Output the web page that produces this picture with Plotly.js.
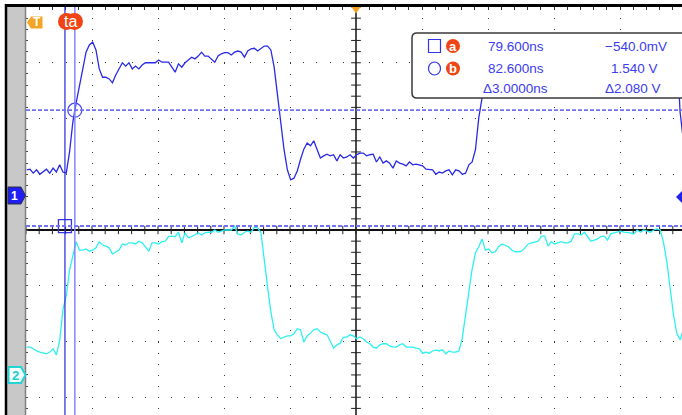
<!DOCTYPE html>
<html><head><meta charset="utf-8">
<script src="https://cdn.plot.ly/plotly-3.0.1.min.js"></script>
<style>html,body{margin:0;padding:0;background:#fff;}#c{width:682px;height:415px;}</style>
</head><body><div id="c"></div>
<script>
// ---- data (time in ns, volts) ----
const time = [68,69,70,71,72,73,74,75,76,77,78,79,80,81,82,83,84,85,86,87,88,89,90,91,92,93,94,95,96,97,98,99,100,101,102,103,104,105,106,107,108,109,110,111,112,113,114,115,116,117,118,119,120,121,122,123,124,125,126,127,128,129,130,131,132,133,134,135,136,137,138,139,140,141,142,143,144,145,146,147,148,149,150,151,152,153,154,155,156,157,158,159,160,161,162,163,164,165,166,167,168,169,170,171,172,173,174,175,176,177,178,179,180,181,182,183,184,185,186,187,188,189,190,191,192,193,194,195,196,197,198,199,200,201,202,203,204,205,206,207,208,209,210,211,212,213,214,215,216,217,218,219,220,221,222,223,224,225,226,227,228,229,230,231,232,233,234,235,236,237,238,239,240,241,242,243,244,245,246,247,248,249,250,251,252,253,254,255,256,257,258,259,260,261,262,263,264,265,266,267];
const ch1Volts = [0.47,0.48,0.41,0.47,0.39,0.43,0.48,0.41,0.50,0.43,
0.56,0.43,0.41,0.79,1.33,1.67,1.97,2.30,2.58,2.71,
2.76,2.62,2.28,2.13,2.13,2.10,2.03,2.17,2.28,2.39,
2.33,2.39,2.28,2.33,2.28,2.35,2.39,2.39,2.40,2.39,
2.44,2.40,2.40,2.40,2.31,2.22,2.37,2.31,2.39,2.44,
2.49,2.46,2.51,2.58,2.51,2.51,2.46,2.40,2.51,2.55,
2.57,2.57,2.53,2.58,2.60,2.58,2.49,2.60,2.64,2.65,
2.60,2.64,2.69,2.69,2.62,2.31,1.81,1.33,0.83,0.47,
0.29,0.32,0.45,0.66,0.84,0.95,0.90,0.99,0.83,0.68,
0.72,0.75,0.72,0.74,0.63,0.74,0.68,0.70,0.74,0.68,
0.74,0.77,0.77,0.72,0.74,0.75,0.61,0.70,0.59,0.63,
0.59,0.50,0.63,0.59,0.57,0.54,0.61,0.56,0.57,0.56,
0.54,0.48,0.48,0.47,0.39,0.43,0.41,0.45,0.47,0.38,
0.47,0.45,0.39,0.41,0.56,0.61,0.83,1.40,1.76,2.08,
2.35,2.48,2.53,2.55,2.60,2.52,2.58,2.62,2.55,2.60,
2.64,2.57,2.61,2.66,2.59,2.62,2.58,2.65,2.68,2.61,
2.64,2.60,2.67,2.70,2.63,2.66,2.62,2.69,2.65,2.71,
2.64,2.68,2.72,2.66,2.70,2.65,2.73,2.69,2.74,2.67,
2.71,2.75,2.70,2.73,2.68,2.76,2.71,2.74,2.78,2.72,
2.75,2.70,2.77,2.74,2.79,2.73,2.76,2.72,1.51,1.00];
const ch2Volts = [0.50,0.50,0.47,0.43,0.41,0.39,0.38,0.41,0.47,0.36,
0.61,1.17,1.42,1.88,2.13,2.39,2.24,2.24,2.26,2.22,
2.24,2.28,2.39,2.33,2.31,2.28,2.17,2.21,2.24,2.35,
2.33,2.37,2.37,2.35,2.40,2.37,2.30,2.22,2.37,2.37,
2.35,2.39,2.40,2.48,2.49,2.48,2.56,2.37,2.55,2.46,
2.48,2.51,2.55,2.51,2.55,2.56,2.56,2.60,2.56,2.58,
2.60,2.60,2.60,2.67,2.53,2.51,2.56,2.58,2.56,2.65,
2.64,2.55,2.03,1.58,1.13,0.81,0.72,0.65,0.68,0.70,
0.70,0.74,0.83,0.81,0.59,0.70,0.75,0.81,0.83,0.77,
0.74,0.72,0.61,0.48,0.54,0.57,0.68,0.68,0.72,0.70,
0.65,0.68,0.65,0.59,0.56,0.50,0.48,0.54,0.56,0.56,
0.52,0.50,0.50,0.54,0.56,0.50,0.50,0.50,0.48,0.47,
0.39,0.41,0.39,0.43,0.45,0.43,0.45,0.38,0.43,0.41,
0.41,0.43,0.66,1.09,1.56,1.90,2.19,2.30,2.44,2.24,
2.26,2.19,2.21,2.30,2.35,2.33,2.30,2.24,2.21,2.21,
2.22,2.28,2.35,2.37,2.39,2.40,2.49,2.49,2.31,2.39,
2.35,2.37,2.39,2.37,2.37,2.40,2.53,2.53,2.51,2.56,
2.49,2.40,2.42,2.44,2.48,2.49,2.42,2.53,2.55,2.56,
2.58,2.56,2.56,2.55,2.53,2.60,2.56,2.60,2.58,2.56,
2.60,2.62,2.60,2.37,2.03,1.52,1.08,0.75,0.63,0.81];
const cursorTimes = [79.6, 82.6];      // a, b
const cursorVolts = [-0.54, 1.54];     // a, b (channel 1)
const readoutTimeLabels = ['79.600ns', '82.600ns', '\u03943.0000ns'];
const readoutVoltLabels = ['\u2212540.0mV', '1.540 V', '\u03942.080 V'];

// ---- scope setup ----
const NS_PER_DIV = 20, V_PER_DIV = 1;
const T_CENTER = 167.8;                 // time at screen centre
const CH1_POS = 0.61, CH2_POS = -2.60;  // ground marker positions (div)
const PL = 26, PT = 7, PW = 656, PH = 408, W = 682, H = 415;
const PX_PER_DIV_X = 66, PX_PER_DIV_Y = 55.75;
const xmin = T_CENTER - 5 * NS_PER_DIV;
const xmax = xmin + PW / PX_PER_DIV_X * NS_PER_DIV;
const ytop = 4, ybot = 4 - PH / PX_PER_DIV_Y;

const px = x => (x - PL) / PW;
const py = y => (PT + PH - y) / PH;
const path = pts => 'M' + pts.map(p => px(p[0]).toFixed(5) + ',' + py(p[1]).toFixed(5)).join('L') + 'Z';

// center-axis tick decorations
const tx = [], ty = [], vx = [], vy = [];
for (let k = 0; k <= 50; k++) { tx.push(xmin + k * NS_PER_DIV / 5); ty.push(0); }
for (let k = -17; k <= 20; k++) { vx.push(T_CENTER); vy.push(k / 5); }

const traces = [
  {x: tx, y: ty, mode: 'markers', marker: {symbol: 'line-ns-open', size: 6, color: '#222', line: {width: 1, color: '#222'}}, hoverinfo: 'skip', xaxis: 'x', yaxis: 'y'},
  {x: vx, y: vy, mode: 'markers', marker: {symbol: 'line-ew-open', size: 7, color: '#222', line: {width: 1, color: '#222'}}, hoverinfo: 'skip', xaxis: 'x', yaxis: 'y'},
  {x: time, y: ch2Volts, mode: 'lines', line: {color: '#2ef0f0', width: 1.3}, yaxis: 'y3'},
  {x: time, y: ch1Volts, mode: 'lines', line: {color: '#2a2ae6', width: 1.3}, yaxis: 'y2'},
  {x: [cursorTimes[0]], y: [cursorVolts[0]], mode: 'markers', marker: {symbol: 'square-open', size: 13, color: '#3434e0', line: {width: 1.3, color: '#3434e0'}}, yaxis: 'y2'},
  {x: [cursorTimes[1]], y: [cursorVolts[1]], mode: 'markers', marker: {symbol: 'circle-open', size: 14, color: '#4a4af0', line: {width: 1.3, color: '#4a4af0'}}, yaxis: 'y2'}
];

const orange = '#f04414';
const shapes = [
  // left bezel
  {type: 'rect', xref: 'paper', yref: 'paper', x0: px(7), x1: px(25), y0: py(H), y1: py(5), fillcolor: '#c8c8c8', line: {width: 0}, layer: 'above'},
  {type: 'line', xref: 'paper', yref: 'paper', x0: px(25.5), x1: px(25.5), y0: py(H), y1: py(6), line: {color: '#808080', width: 1.5}, layer: 'above'},
  {type: 'line', xref: 'paper', yref: 'paper', x0: px(6), x1: px(6), y0: py(H), y1: py(4), line: {color: '#000', width: 2.5}, layer: 'above'},
  {type: 'line', xref: 'paper', yref: 'paper', x0: px(5), x1: px(W), y0: py(5.5), y1: py(5.5), line: {color: '#000', width: 3}, layer: 'above'},
  // centre vertical axis
  {type: 'line', xref: 'x', yref: 'paper', x0: T_CENTER, x1: T_CENTER, y0: 0, y1: 1, line: {color: '#111', width: 1.5}, layer: 'below'},
  // cursors
  {type: 'line', xref: 'x', yref: 'paper', x0: cursorTimes[0], x1: cursorTimes[0], y0: 0, y1: 1, line: {color: '#2626e0', width: 1.2}, layer: 'above'},
  {type: 'line', xref: 'x', yref: 'paper', x0: cursorTimes[1], x1: cursorTimes[1], y0: 0, y1: 1, line: {color: '#8484ff', width: 1.5}, layer: 'above'},
  {type: 'line', xref: 'paper', yref: 'y2', x0: 0, x1: 1, y0: cursorVolts[0], y1: cursorVolts[0], line: {color: '#7272f2', width: 2, dash: '4px,2px'}, layer: 'above'},
  {type: 'line', xref: 'paper', yref: 'y2', x0: 0, x1: 1, y0: cursorVolts[1], y1: cursorVolts[1], line: {color: '#7272f2', width: 1.6, dash: '4px,2px'}, layer: 'above'},
  // ta badge
  {type: 'circle', xref: 'paper', yref: 'paper', x0: px(58), x1: px(75), y0: py(30), y1: py(13), fillcolor: orange, line: {width: 0}, layer: 'above'},
  {type: 'circle', xref: 'paper', yref: 'paper', x0: px(66), x1: px(83), y0: py(30), y1: py(13), fillcolor: orange, line: {width: 0}, layer: 'above'},
  // T marker and trigger position
  {type: 'path', xref: 'paper', yref: 'paper', path: path([[27,22.5],[31,16.5],[42.5,16.5],[42.5,28.5],[31,28.5]]), fillcolor: '#f5a524', line: {width: 0}, layer: 'above'},
  {type: 'path', xref: 'paper', yref: 'paper', path: path([[351.5,7],[360.5,7],[356,13.5]]), fillcolor: '#f5a020', line: {width: 0}, layer: 'above'},
  // channel markers
  {type: 'path', xref: 'paper', yref: 'paper', path: path([[8,187],[21,187],[25.5,195.5],[21,204],[8,204]]), fillcolor: '#1e1ef5', line: {color: '#303040', width: 1}, layer: 'above'},
  {type: 'path', xref: 'paper', yref: 'paper', path: path([[8.5,367],[21,367],[25.5,375],[21,383],[8.5,383]]), fillcolor: '#f4ffff', line: {color: '#22d4d4', width: 2}, layer: 'above'},
  {type: 'path', xref: 'paper', yref: 'paper', path: path([[676,197],[683,190],[683,204]]), fillcolor: '#2020f0', line: {width: 0}, layer: 'above'},
  // readout box
  {type: 'path', xref: 'paper', yref: 'paper',
   path: 'M' + px(417) + ',' + py(33) + 'L' + px(700) + ',' + py(33) + 'L' + px(700) + ',' + py(98) + 'L' + px(417) + ',' + py(98) +
         'Q' + px(412) + ',' + py(98) + ' ' + px(412) + ',' + py(93) + 'L' + px(412) + ',' + py(38) + 'Q' + px(412) + ',' + py(33) + ' ' + px(417) + ',' + py(33) + 'Z',
   fillcolor: '#fff', line: {color: '#3a3a3a', width: 1.5}, layer: 'above'},
  {type: 'rect', xref: 'paper', yref: 'paper', x0: px(428.5), x1: px(440.5), y0: py(52.5), y1: py(39.5), line: {color: '#3434e8', width: 1.2}, layer: 'above'},
  {type: 'circle', xref: 'paper', yref: 'paper', x0: px(428.5), x1: px(440.5), y0: py(75), y1: py(62), line: {color: '#3434e8', width: 1.2}, layer: 'above'},
  {type: 'circle', xref: 'paper', yref: 'paper', x0: px(446), x1: px(460), y0: py(53), y1: py(39), fillcolor: orange, line: {width: 0}, layer: 'above'},
  {type: 'circle', xref: 'paper', yref: 'paper', x0: px(446), x1: px(460), y0: py(75.5), y1: py(61.5), fillcolor: orange, line: {width: 0}, layer: 'above'}
];

const fam = 'Liberation Sans, Arial, sans-serif';
const ann = (x, y, text, size, color, bold) => ({xref: 'paper', yref: 'paper', x: px(x), y: py(y), xanchor: 'center', yanchor: 'middle', showarrow: false,
  text: bold ? '<b>' + text + '</b>' : text, font: {family: fam, size: size, color: color}});
const textBlue = '#3c3cf0';
const annotations = [
  ann(70.5, 21.5, 'ta', 16, '#fff', false),
  ann(37, 22.5, 'T', 12, '#fff', true),
  ann(14.5, 195.5, '1', 12, '#fff', true),
  ann(15, 375, '2', 13, '#22cccc', true),
  ann(453, 46, 'a', 13, '#fff', true),
  ann(453, 68.5, 'b', 13, '#fff', true),
  ann(515.5, 46, readoutTimeLabels[0], 13.5, textBlue),
  ann(515.5, 68, readoutTimeLabels[1], 13.5, textBlue),
  ann(515, 88.5, readoutTimeLabels[2], 13.5, textBlue),
  ann(635.5, 46, readoutVoltLabels[0], 13.5, textBlue),
  ann(634.5, 68, readoutVoltLabels[1], 13.5, textBlue),
  ann(633, 88.5, readoutVoltLabels[2], 13.5, textBlue)
];

const layout = {
  width: W, height: H, margin: {l: PL, r: W - PL - PW, t: PT, b: H - PT - PH, pad: 0},
  paper_bgcolor: '#fff', plot_bgcolor: '#fff', showlegend: false,
  xaxis: {range: [xmin, xmax], showgrid: true, tick0: T_CENTER, dtick: NS_PER_DIV, gridcolor: '#3a3a3a', gridwidth: 1, griddash: '1px,10.15px',
    zeroline: false, showticklabels: false, side: 'top', ticks: 'inside', ticklen: 3, tickcolor: '#333',
    minor: {tick0: T_CENTER, dtick: NS_PER_DIV / 5, ticks: 'inside', ticklen: 3, tickcolor: '#333', showgrid: false}, fixedrange: true},
  yaxis: {range: [ybot, ytop], showgrid: true, tick0: 0, dtick: 1, gridcolor: '#3a3a3a', gridwidth: 1, griddash: '1px,12.2px',
    zeroline: true, zerolinecolor: '#111', zerolinewidth: 1.5, showticklabels: false, ticks: 'inside', ticklen: 2, tickcolor: '#444',
    minor: {dtick: 0.2, ticks: 'inside', ticklen: 2, tickcolor: '#444', showgrid: false}, fixedrange: true},
  yaxis2: {overlaying: 'y', range: [(ybot - CH1_POS) * V_PER_DIV, (ytop - CH1_POS) * V_PER_DIV], showgrid: false, zeroline: false, showticklabels: false, ticks: '', fixedrange: true},
  yaxis3: {overlaying: 'y', range: [(ybot - CH2_POS) * V_PER_DIV, (ytop - CH2_POS) * V_PER_DIV], showgrid: false, zeroline: false, showticklabels: false, ticks: '', fixedrange: true},
  shapes: shapes, annotations: annotations
};
Plotly.newPlot('c', traces, layout, {staticPlot: true, displayModeBar: false});
</script></body></html>
